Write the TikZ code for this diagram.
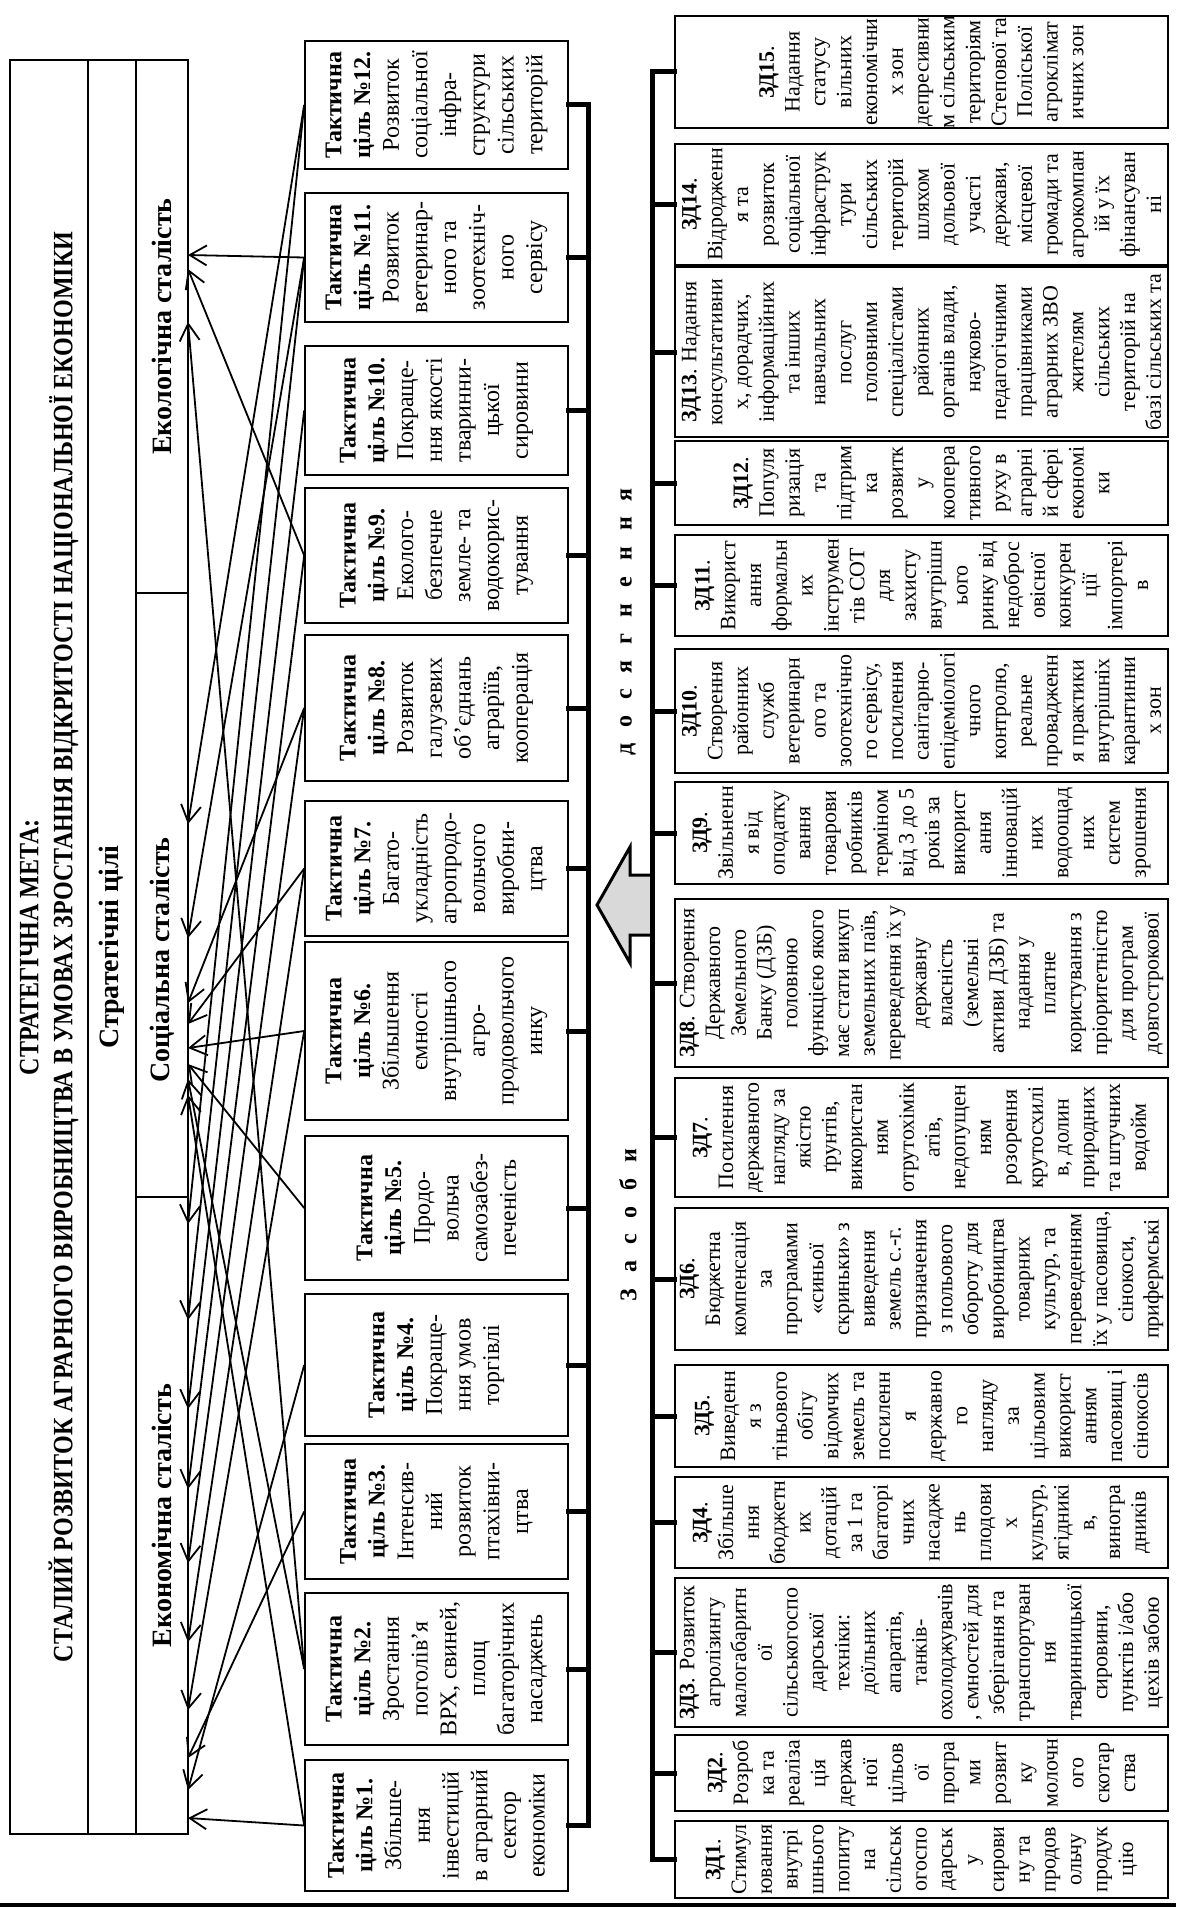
\documentclass[tikz,border=0pt]{standalone}
\usepackage{fontspec}
\setmainfont{Liberation Serif}
\usepackage{graphicx}
\usetikzlibrary{arrows.meta}
\newcommand{\zdn}[1]{\textbf{ЗД#1}}
\newcommand{\tcn}[1]{\textbf{Тактична}\\\textbf{ціль №#1.}}
\begin{document}
\begin{tikzpicture}[x=1pt,y=-1pt,
  tbox/.style={draw, line width=1.6pt, rotate=90, inner sep=0pt, align=center, minimum height=263pt, font=\fontsize{24}{28.7}\selectfont},
  zbox/.style={draw, line width=1.6pt, rotate=90, inner sep=0pt, align=center, minimum height=493pt, font=\fontsize{22}{25.8}\selectfont},
  outerbox/.style={draw, line width=1.4pt, rotate=90, inner sep=0pt, align=center},
  conn/.style={line width=1.8pt, -{Straight Barb[length=17pt,width=20pt,line width=1.8pt]}},
  brk/.style={line width=5pt, line cap=rect},
  lbl/.style={rotate=90, inner sep=0pt, align=center, font=\bfseries\fontsize{28}{34}\selectfont},
  spl/.style={rotate=90, inner sep=0pt, font=\bfseries\fontsize{24}{28}\selectfont}
]
\useasboundingbox (0,0) rectangle (1176,1910);
\fill[white] (0,0) rectangle (1176,1910);

% left column
\node[outerbox, minimum width=1774pt, minimum height=78pt, font=\bfseries\fontsize{28}{34}\selectfont] (title) at (49,947)
  {\scalebox{0.86}[1]{СТРАТЕГІЧНА МЕТА:}\\\scalebox{0.86}[1]{СТАЛИЙ РОЗВИТОК АГРАРНОГО ВИРОБНИЦТВА В УМОВАХ ЗРОСТАННЯ ВІДКРИТОСТІ НАЦІОНАЛЬНОЇ ЕКОНОМІКИ}};
\node[outerbox, minimum width=1774pt, minimum height=48pt, font=\bfseries\fontsize{28}{34}\selectfont] (strat) at (112,947) {Стратегічні цілі};
\node[outerbox, minimum width=533pt, minimum height=52pt, font=\bfseries\fontsize{28}{34}\selectfont] (ekol) at (162,326.5) {Екологічна сталість};
\node[outerbox, minimum width=604pt, minimum height=52pt] (soc) at (162,895) {};
\node[lbl] (soclbl) at (162,960) {Соціальна сталість};
\node[outerbox, minimum width=637pt, minimum height=52pt, font=\bfseries\fontsize{28}{34}\selectfont] (econ) at (162,1515.5) {Економічна сталість};

% tactical goals
\node[tbox, minimum width=128pt] (tc12) at (436.5,105) {\tcn{12}\\Розвиток\\соціальної\\інфра-\\структури\\сільських\\територій};
\node[tbox, minimum width=129pt] (tc11) at (436.5,257.5) {\tcn{11}\\Розвиток\\ветеринар-\\ного та\\зоотехніч-\\ного\\сервісу};
\node[tbox, minimum width=129pt] (tc10) at (436.5,410.5) {\tcn{10}\\Покраще-\\ння якості\\тваринни-\\цької\\сировини};
\node[tbox, minimum width=135pt] (tc9) at (436.5,555.5) {\tcn{9}\\Еколого-\\безпечне\\земле- та\\водокорис-\\тування};
\node[tbox, minimum width=146pt] (tc8) at (436.5,708) {\tcn{8}\\Розвиток\\галузевих\\об’єднань\\аграріїв,\\кооперація};
\node[tbox, minimum width=135pt] (tc7) at (436.5,868.5) {\tcn{7}\\Багато-\\укладність\\агропродо-\\вольчого\\виробни-\\цтва};
\node[tbox, minimum width=178pt] (tc6) at (436.5,1031) {\tcn{6}\\Збільшення\\ємності\\внутрішнього\\агро-\\продовольчого\\инку};
\node[tbox, minimum width=144pt] (tc5) at (436.5,1208) {\tcn{5}\\Продо-\\вольча\\самозабез-\\печеність};
\node[tbox, minimum width=142pt] (tc4) at (436.5,1365) {\tcn{4}\\Покраще-\\ння умов\\торгівлі};
\node[tbox, minimum width=135pt] (tc3) at (436.5,1511.5) {\tcn{3}\\Інтенсив-\\ний\\розвиток\\птахівни-\\цтва};
\node[tbox, minimum width=152pt] (tc2) at (436.5,1669) {\tcn{2}\\Зростання\\поголів’я\\ВРХ, свиней,\\площ\\багаторічних\\насаджень};
\node[tbox, minimum width=131pt] (tc1) at (436.5,1825.5) {\tcn{1}\\Збільше-\\ння\\інвестицій\\в аграрний\\сектор\\економіки};

% means of achievement
\node[zbox, minimum width=110pt] (zd15) at (921.5,72) {\zdn{15}.\\Надання\\статусу\\вільних\\економічни\\х зон\\депресивни\\м сільським\\територіям\\Степової та\\Поліської\\агроклімат\\ичних зон};
\node[zbox, minimum width=121pt] (zd14) at (921.5,204.5) {\zdn{14}.\\Відродженн\\я та\\розвиток\\соціальної\\інфраструк\\тури\\сільських\\територій\\шляхом\\дольової\\участі\\держави,\\місцевої\\громади та\\агрокомпан\\ій у їх\\фінансуван\\ні};
\node[zbox, minimum width=170pt] (zd13) at (921.5,352) {\zdn{13}. Надання\\консультативни\\х, дорадчих,\\інформаційних\\та інших\\навчальних\\послуг\\головними\\спеціалістами\\районних\\органів влади,\\науково-\\педагогічними\\працівниками\\аграрних ЗВО\\жителям\\сільських\\територій на\\базі сільських та};
\node[zbox, minimum width=84pt] (zd12) at (921.5,483) {\zdn{12}.\\Популя\\ризація\\та\\підтрим\\ка\\розвитк\\у\\коопера\\тивного\\руху в\\аграрні\\й сфері\\економі\\ки};
\node[zbox, minimum width=101pt] (zd11) at (921.5,585.5) {\zdn{11}.\\Використ\\ання\\формальн\\их\\інструмен\\тів СОТ\\для\\захисту\\внутрішн\\ього\\ринку від\\недоброс\\овісної\\конкурен\\ції\\імпортері\\в};
\node[zbox, minimum width=124pt] (zd10) at (921.5,711) {\zdn{10}.\\Створення\\районних\\служб\\ветеринарн\\ого та\\зоотехнічно\\го сервісу,\\посилення\\санітарно-\\епідеміологі\\чного\\контролю,\\реальне\\провадженн\\я практики\\внутрішніх\\карантинни\\х зон};
\node[zbox, minimum width=102pt] (zd9) at (921.5,833) {\zdn{9}.\\Звільненн\\я від\\оподатку\\вання\\товарови\\робників\\терміном\\від 3 до 5\\років за\\використ\\ання\\інновацій\\них\\водоощад\\них\\систем\\зрошення};
\node[zbox, minimum width=168pt] (zd8) at (921.5,983) {\zdn{8}. Створення\\Державного\\Земельного\\Банку (ДЗБ)\\головною\\функцією якого\\має стати викуп\\земельних паїв,\\переведення їх у\\державну\\власність\\(земельні\\активи ДЗБ) та\\надання у\\платне\\користування з\\пріоритетністю\\для програм\\довгострокової};
\node[zbox, minimum width=119pt] (zd7) at (921.5,1137.5) {\zdn{7}.\\Посилення\\державного\\нагляду за\\якістю\\ґрунтів,\\використан\\ням\\отрутохімік\\атів,\\недопущен\\ням\\розорення\\крутосхилі\\в, долин\\природних\\та штучних\\водойм};
\node[zbox, minimum width=142pt] (zd6) at (921.5,1279) {\zdn{6}.\\Бюджетна\\компенсація\\за\\програмами\\«синьої\\скриньки» з\\виведення\\земель с.-г.\\призначення\\з польового\\обороту для\\виробництва\\товарних\\культур, та\\переведенням\\їх у пасовища,\\сінокоси,\\прифермські};
\node[zbox, minimum width=102pt] (zd5) at (921.5,1416) {\zdn{5}.\\Виведенн\\я з\\тіньового\\обігу\\відомчих\\земель та\\посиленн\\я\\державно\\го\\нагляду\\за\\цільовим\\використ\\анням\\пасовищ і\\сінокосів};
\node[zbox, minimum width=91pt] (zd4) at (921.5,1522.5) {\zdn{4}.\\Збільше\\ння\\бюджетн\\их\\дотацій\\за 1 га\\багаторі\\чних\\насадже\\нь\\плодови\\х\\культур,\\ягідникі\\в,\\виногра\\дників};
\node[zbox, minimum width=149pt] (zd3) at (921.5,1652.5) {\zdn{3}. Розвиток\\агролізингу\\малогабаритн\\ої\\сільськогоспо\\дарської\\техніки:\\доїльних\\апаратів,\\танків-\\охолоджувачів\\, ємностей для\\зберігання та\\транспортуван\\ня\\тваринницької\\сировини,\\пунктів і/або\\цехів забою};
\node[zbox, minimum width=76pt] (zd2) at (921.5,1773) {\zdn{2}.\\Розроб\\ка та\\реаліза\\ція\\держав\\ної\\цільов\\ої\\програ\\ми\\розвит\\ку\\молочн\\ого\\скотар\\ства};
\node[zbox, minimum width=77pt] (zd1) at (921.5,1859.5) {\zdn{1}.\\Стимул\\ювання\\внутрі\\шнього\\попиту\\на\\сільськ\\огоспо\\дарськ\\у\\сирови\\ну та\\продов\\ольчу\\продук\\цію};

% block arrow
\draw[line width=3pt, fill=gray!30, line join=miter] (652,875) -- (630,875) -- (630,847) -- (597,905) -- (630,963) -- (630,935) -- (652,935);

% brackets
\coordinate (bl) at (588,0);
\coordinate (br) at (652,0);
\draw[brk] (tc12.south -| bl) -- (tc1.south -| bl);
\foreach \n in {1,...,12} \draw[brk] (tc\n.south) -- (tc\n.south -| bl);
\draw[brk] (zd15.north -| br) -- (zd1.north -| br);
\foreach \n in {1,...,15} \draw[brk] (zd\n.north) -- (zd\n.north -| br);

% labels
\node[spl] (zas) at (628,1225) {З\hspace{16pt}а\hspace{16pt}с\hspace{16pt}о\hspace{16pt}б\hspace{16pt}и};
\node[spl] (dos) at (628,622) {д\hspace{16pt}о\hspace{16pt}с\hspace{16pt}я\hspace{16pt}г\hspace{16pt}н\hspace{16pt}е\hspace{16pt}н\hspace{16pt}н\hspace{16pt}я};

% arrow targets on sustainability boxes
\foreach \y in {255,269,322,824,938,1003,1024,1048,1064,1079,1095,1224,1320,1409,1489,1563,1642,1710,1758,1790,1818}
  \coordinate (k\y) at (188,\y);

\draw[conn] (tc12.north) -- (k824);
\draw[conn] (tc12.north) -- (k1224);
\draw[conn] (tc11.north) -- (k255);
\draw[conn] (tc11.north) -- (k938);
\draw[conn] (tc11.north) -- (k1320);
\draw[conn] (tc10.north) -- (k1409);
\draw[conn] (tc9.north) -- (k269);
\draw[conn] (tc9.north) -- (k1489);
\draw[conn] (tc8.north) -- (k1003);
\draw[conn] (tc8.north) -- (k1563);
\draw[conn] (tc7.north) -- (k1024);
\draw[conn] (tc7.north) -- (k1642);
\draw[conn] (tc6.north) -- (k1048);
\draw[conn] (tc6.north) -- (k1710);
\draw[conn] (tc5.north) -- (k1064);
\draw[conn] (tc4.north) -- (k1790);
\draw[conn] (tc3.north) -- (k1758);
\draw[conn] (tc2.north) -- (k322);
\draw[conn] (tc2.north) -- (k1079);
\draw[conn] (tc1.north) -- (k1818);
\draw[conn] (tc1.north) -- (k1095);

% bottom rule
\draw[line width=3.5pt] (0,1905) -- (1176,1905);
\end{tikzpicture}
\end{document}
